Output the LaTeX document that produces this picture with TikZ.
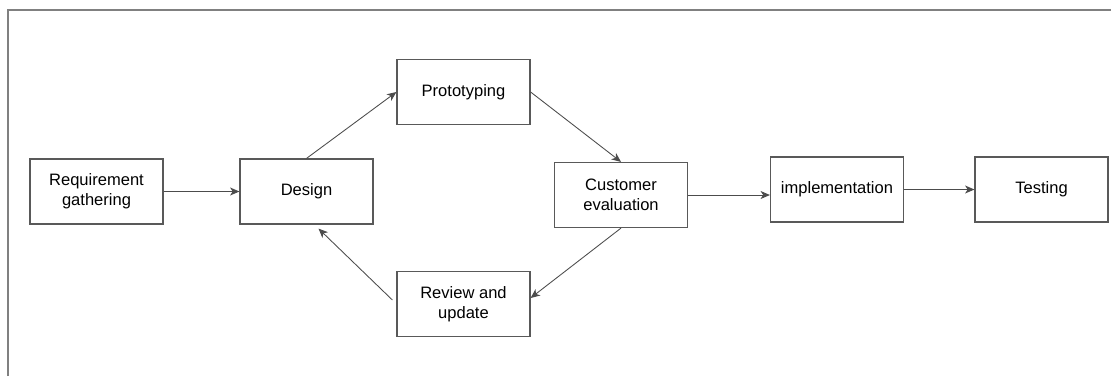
\documentclass[tikz,border=0pt]{standalone}
\usepackage{fontspec}
\setmainfont{Liberation Sans}
\usetikzlibrary{arrows.meta,calc}

\begin{document}
\begin{tikzpicture}[x=0.75pt,y=-0.75pt,
    box/.style={draw=black!65,line width=0.9pt,fill=white,minimum width=99.75pt,
        minimum height=48.75pt,inner sep=1pt,align=center,font=\fontsize{12.4}{15}\selectfont},
    flow/.style={draw=black!70,line width=0.65pt,-{Stealth[length=7pt,width=6pt,inset=2pt]}}]
          \useasboundingbox (0,0) rectangle (1111,376);
          \draw[black!50,line width=1pt] (8,376) -- (8,10) -- (1111,10);

          \node[box] (req)    at (96.5,191.5)  {Requirement\\gathering};
          \node[box] (design) at (306.5,191.5) {Design};
          \node[box] (proto)  at (463.5,92)    {Prototyping};
          \node[box] (cust)   at (621,195)     {Customer\\evaluation};
          \node[box] (review) at (463.5,304)   {Review and\\update};
          \node[box] (impl)   at (837,189.5)   {implementation};
          \node[box] (test)   at (1041.5,189.5) {Testing};

          \draw[flow] (req) -- (design);
          \draw[flow] (design.north) -- (proto.west);
          \draw[flow] (proto.east) -- (cust.north);
          \draw[flow] (cust.south) -- ($(review.east)+(0,-6)$);
          \draw[flow] ($(review.west)+(-4,-4)$) -- ($(design.south)+(12,4)$);
          \draw[flow] (cust.east) -- (cust.east -| impl.west);
          \draw[flow] (impl) -- (test);
\end{tikzpicture}
\end{document}
